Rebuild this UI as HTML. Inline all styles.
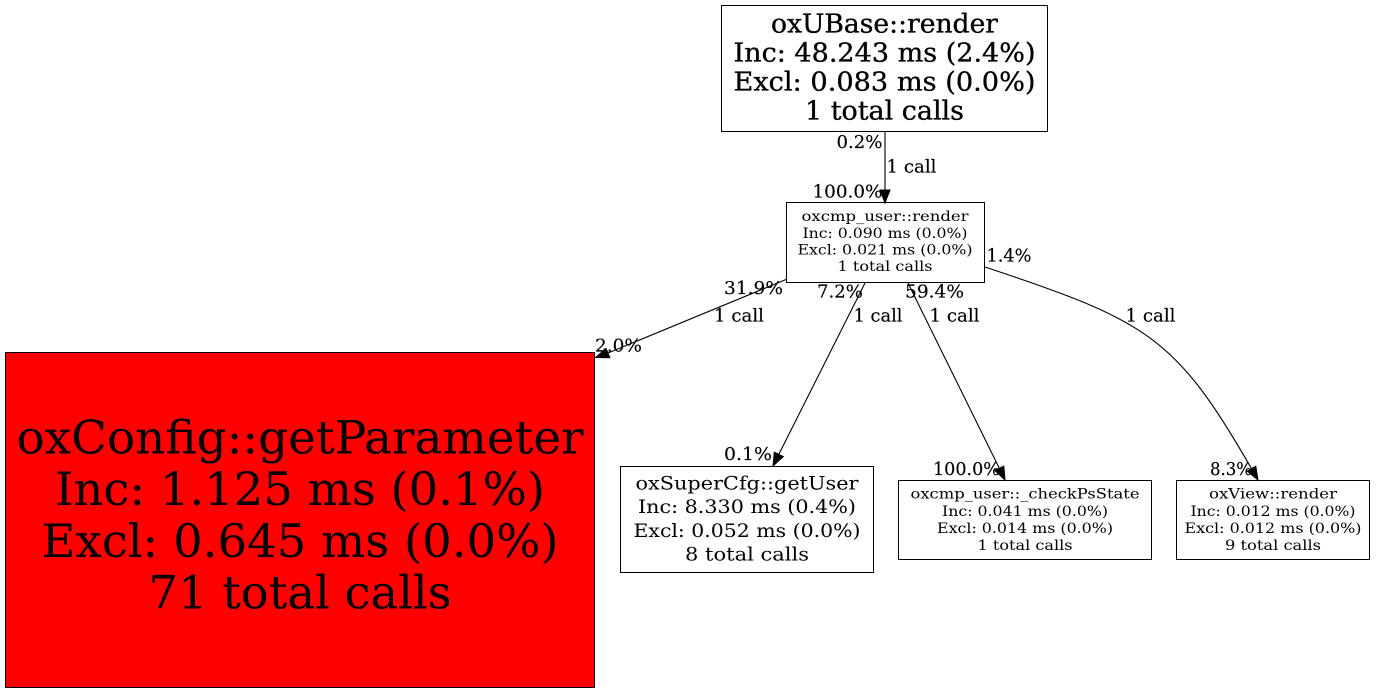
<!DOCTYPE html>
<html>
<head>
<meta charset="utf-8">
<style>
  html, body { margin: 0; padding: 0; background: #ffffff; }
  svg { display: block; }
  text { font-family: "DejaVu Serif", "Liberation Serif", serif; fill: #000; }
</style>
</head>
<body>
<svg width="1381" height="693" viewBox="0 0 1381 693" xmlns="http://www.w3.org/2000/svg">
  <rect x="0" y="0" width="1381" height="693" fill="#ffffff"/>

  <!-- Node A: oxUBase::render -->
  <rect x="721.5" y="5.5" width="326" height="126" fill="#ffffff" stroke="#000" stroke-width="1"/>
  <g font-size="26" text-anchor="middle" stroke="#000" stroke-width="0.35">
    <text x="884.5" y="32.5" textLength="227" lengthAdjust="spacingAndGlyphs">oxUBase::render</text>
    <text x="884.5" y="61.5" textLength="302" lengthAdjust="spacingAndGlyphs">Inc: 48.243 ms (2.4%)</text>
    <text x="884.5" y="90.5" textLength="302" lengthAdjust="spacingAndGlyphs">Excl: 0.083 ms (0.0%)</text>
    <text x="884.5" y="119.5" textLength="159" lengthAdjust="spacingAndGlyphs">1 total calls</text>
  </g>

  <!-- Node B: oxcmp_user::render -->
  <rect x="786.5" y="202.5" width="198" height="80" fill="#ffffff" stroke="#000" stroke-width="1"/>
  <g font-size="14" text-anchor="middle">
    <text x="885" y="221" textLength="167" lengthAdjust="spacingAndGlyphs">oxcmp_user::render</text>
    <text x="885" y="238" textLength="165" lengthAdjust="spacingAndGlyphs">Inc: 0.090 ms (0.0%)</text>
    <text x="885" y="254.5" textLength="175" lengthAdjust="spacingAndGlyphs">Excl: 0.021 ms (0.0%)</text>
    <text x="885" y="271" textLength="95" lengthAdjust="spacingAndGlyphs">1 total calls</text>
  </g>

  <!-- Node C: oxConfig::getParameter (red) -->
  <rect x="5.5" y="352.5" width="589" height="335" fill="#ff0000" stroke="#000" stroke-width="1"/>
  <g font-size="46" text-anchor="middle">
    <text x="300" y="453.5" textLength="567" lengthAdjust="spacingAndGlyphs">oxConfig::getParameter</text>
    <text x="300" y="505" textLength="490" lengthAdjust="spacingAndGlyphs">Inc: 1.125 ms (0.1%)</text>
    <text x="300" y="557" textLength="517" lengthAdjust="spacingAndGlyphs">Excl: 0.645 ms (0.0%)</text>
    <text x="300" y="608.5" textLength="303" lengthAdjust="spacingAndGlyphs">71 total calls</text>
  </g>

  <!-- Node D: oxSuperCfg::getUser -->
  <rect x="620.5" y="466.5" width="253" height="106" fill="#ffffff" stroke="#000" stroke-width="1"/>
  <g font-size="18.5" text-anchor="middle">
    <text x="747" y="489.5" textLength="223" lengthAdjust="spacingAndGlyphs">oxSuperCfg::getUser</text>
    <text x="747" y="513" textLength="218" lengthAdjust="spacingAndGlyphs">Inc: 8.330 ms (0.4%)</text>
    <text x="747" y="537" textLength="227" lengthAdjust="spacingAndGlyphs">Excl: 0.052 ms (0.0%)</text>
    <text x="747" y="560.5" textLength="124" lengthAdjust="spacingAndGlyphs">8 total calls</text>
  </g>

  <!-- Node E: oxcmp_user::_checkPsState -->
  <rect x="898.5" y="480.5" width="253" height="79" fill="#ffffff" stroke="#000" stroke-width="1"/>
  <g font-size="14" text-anchor="middle">
    <text x="1025" y="498.5" textLength="229" lengthAdjust="spacingAndGlyphs">oxcmp_user::_checkPsState</text>
    <text x="1025" y="516" textLength="166" lengthAdjust="spacingAndGlyphs">Inc: 0.041 ms (0.0%)</text>
    <text x="1025" y="533" textLength="176" lengthAdjust="spacingAndGlyphs">Excl: 0.014 ms (0.0%)</text>
    <text x="1025" y="550" textLength="95" lengthAdjust="spacingAndGlyphs">1 total calls</text>
  </g>

  <!-- Node F: oxView::render -->
  <rect x="1176.5" y="480.5" width="193" height="79" fill="#ffffff" stroke="#000" stroke-width="1"/>
  <g font-size="14" text-anchor="middle">
    <text x="1273" y="498.5" textLength="128" lengthAdjust="spacingAndGlyphs">oxView::render</text>
    <text x="1273" y="516" textLength="165" lengthAdjust="spacingAndGlyphs">Inc: 0.012 ms (0.0%)</text>
    <text x="1273" y="533" textLength="177" lengthAdjust="spacingAndGlyphs">Excl: 0.012 ms (0.0%)</text>
    <text x="1273" y="550" textLength="96" lengthAdjust="spacingAndGlyphs">9 total calls</text>
  </g>

  <!-- Edges -->
  <g stroke="#000" stroke-width="1.1" fill="none">
    <line x1="885" y1="132" x2="885" y2="191"/>
    <line x1="786" y1="279.5" x2="608" y2="353"/>
    <line x1="865" y1="283" x2="778.8" y2="454.4"/>
    <line x1="908" y1="283" x2="999.3" y2="468.3"/>
    <path d="M985,267 C1146,320.6 1175.4,335.7 1251.5,468.7"/>
  </g>
  <g fill="#000" stroke="#000" stroke-width="1">
    <polygon points="885,203 880,190 890,190"/>
    <polygon points="595.5,357.5 609.9,357.7 606.1,348.5"/>
    <polygon points="773,466 783.3,456.6 774.3,452.2"/>
    <polygon points="1005,480 994.8,470.5 1003.8,466.1"/>
    <polygon points="1258,480 1247.2,471.2 1255.8,466.2"/>
  </g>

  <!-- Edge labels -->
  <g font-size="18" stroke="#000" stroke-width="0.15">
    <text x="836.5" y="148" textLength="46" lengthAdjust="spacingAndGlyphs">0.2%</text>
    <text x="886.5" y="172.5" textLength="50" lengthAdjust="spacingAndGlyphs">1 call</text>
    <text x="812.5" y="197.5" textLength="70" lengthAdjust="spacingAndGlyphs">100.0%</text>

    <text x="724" y="294" textLength="59" lengthAdjust="spacingAndGlyphs">31.9%</text>
    <text x="817" y="297.5" textLength="46" lengthAdjust="spacingAndGlyphs">7.2%</text>
    <text x="905" y="297.5" textLength="59" lengthAdjust="spacingAndGlyphs">59.4%</text>
    <text x="986.5" y="261.5" textLength="45" lengthAdjust="spacingAndGlyphs">1.4%</text>

    <text x="714" y="321.5" textLength="50" lengthAdjust="spacingAndGlyphs">1 call</text>
    <text x="853.5" y="321.5" textLength="49" lengthAdjust="spacingAndGlyphs">1 call</text>
    <text x="929.5" y="321.5" textLength="50" lengthAdjust="spacingAndGlyphs">1 call</text>
    <text x="1125.5" y="321.5" textLength="50" lengthAdjust="spacingAndGlyphs">1 call</text>

    <text x="595" y="351.5" textLength="47" lengthAdjust="spacingAndGlyphs">2.0%</text>
    <text x="724" y="460" textLength="48" lengthAdjust="spacingAndGlyphs">0.1%</text>
    <text x="933" y="475" textLength="67" lengthAdjust="spacingAndGlyphs">100.0%</text>
    <text x="1210" y="475" textLength="42" lengthAdjust="spacingAndGlyphs">8.3%</text>
  </g>
</svg>
</body>
</html>
